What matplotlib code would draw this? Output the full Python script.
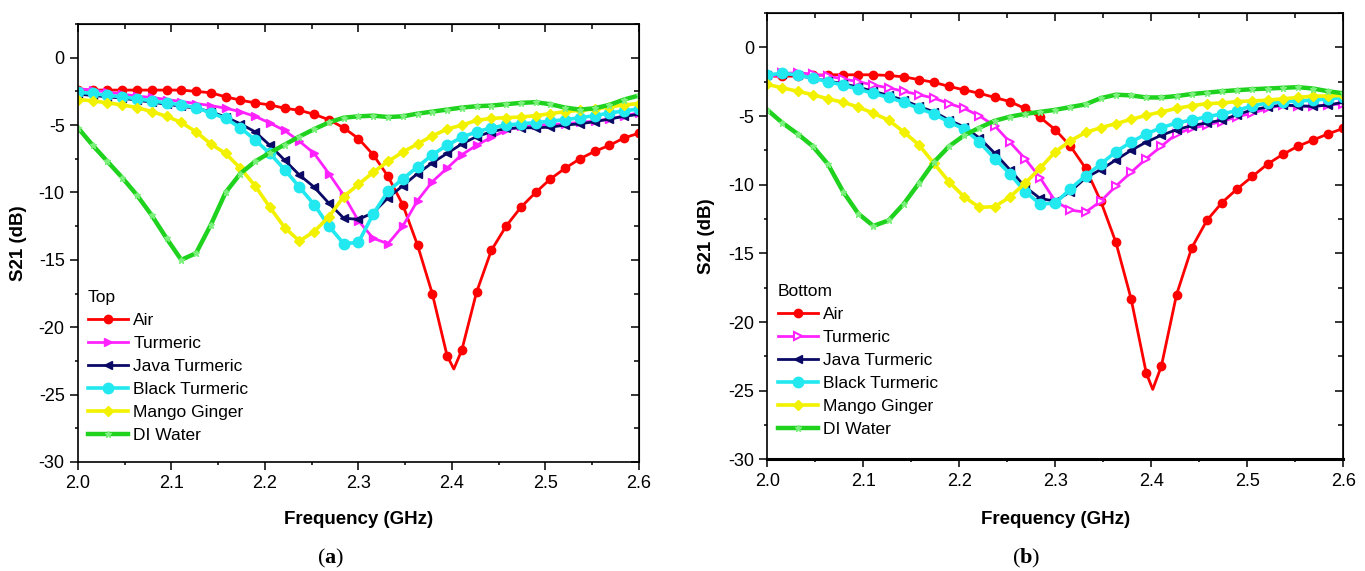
import matplotlib
matplotlib.use("Agg")
import matplotlib.pyplot as plt
import numpy as np
from matplotlib.ticker import MultipleLocator

plt.rcParams['font.family'] = ['Liberation Sans', 'DejaVu Sans']
plt.rcParams['mathtext.fontset'] = 'custom'
plt.rcParams['mathtext.bf'] = 'Liberation Serif:bold'

# frequency samples (GHz), one per marker
freq = np.linspace(2.0, 2.6, 39)

labels = ['Air', 'Turmeric', 'Java Turmeric', 'Black Turmeric', 'Mango Ginger', 'DI Water']

# ---- (a) Top ----
top_air = [-2.4, -2.4, -2.4, -2.4, -2.4, -2.4, -2.4, -2.4, -2.5, -2.6, -2.9, -3.15, -3.35,
           -3.5, -3.75, -3.9, -4.2, -4.6, -5.2, -6.0, -7.2, -8.8, -10.9, -13.9, -17.5, -22.1,
           -21.7, -17.4, -14.3, -12.5, -11.1, -10.0, -9.0, -8.2, -7.5, -6.95, -6.5, -5.95, -5.6]
top_air_min = (2.402, -23.1)
top_turmeric = [-2.3, -2.4, -2.55, -2.7, -2.85, -2.95, -3.1, -3.25, -3.4, -3.55, -3.75, -4.0,
                -4.35, -4.85, -5.4, -6.2, -7.1, -8.6, -10.2, -12.1, -13.4, -13.8, -12.5, -10.6,
                -9.2, -8.2, -7.2, -6.5, -5.9, -5.4, -5.1, -5.0, -4.95, -4.9, -4.8, -4.7, -4.55,
                -4.3, -4.1]
top_java = [-2.7, -2.8, -2.9, -3.0, -3.15, -3.3, -3.45, -3.6, -3.75, -4.0, -4.4, -4.9, -5.5,
            -6.5, -7.6, -8.7, -9.6, -10.8, -11.9, -12.0, -11.5, -10.4, -9.5, -8.6, -7.8, -7.1,
            -6.4, -5.85, -5.5, -5.25, -5.2, -5.2, -5.15, -5.0, -4.9, -4.75, -4.55, -4.35, -4.2]
top_black = [-2.55, -2.65, -2.8, -2.9, -3.05, -3.2, -3.35, -3.5, -3.7, -4.1, -4.5, -5.2, -6.1,
             -7.1, -8.3, -9.6, -10.9, -12.5, -13.8, -13.7, -11.6, -9.9, -9.0, -8.1, -7.2, -6.5,
             -5.9, -5.5, -5.2, -5.0, -4.9, -4.82, -4.7, -4.6, -4.45, -4.3, -4.1, -3.95, -3.8]
top_mango = [-3.1, -3.2, -3.35, -3.5, -3.7, -4.0, -4.35, -4.8, -5.5, -6.4, -7.1, -8.2, -9.5,
             -11.1, -12.6, -13.6, -12.9, -11.8, -10.3, -9.4, -8.5, -7.7, -7.0, -6.4, -5.8, -5.3,
             -5.0, -4.65, -4.5, -4.45, -4.4, -4.3, -4.15, -4.0, -3.9, -3.8, -3.65, -3.5, -3.4]
top_water = [-5.2, -6.5, -7.7, -8.9, -10.2, -11.7, -13.4, -15.0, -14.5, -12.4, -10.0, -8.6,
             -7.7, -7.05, -6.45, -5.85, -5.3, -4.8, -4.45, -4.35, -4.3, -4.4, -4.35, -4.15, -4.0,
             -3.85, -3.7, -3.6, -3.55, -3.45, -3.35, -3.3, -3.45, -3.7, -3.85, -3.75, -3.5, -3.1,
             -2.8]

# ---- (b) Bottom ----
bot_air = [-2.1, -2.1, -2.1, -2.05, -2.0, -2.0, -2.0, -2.0, -2.05, -2.15, -2.35, -2.55, -2.85,
           -3.1, -3.35, -3.65, -3.95, -4.45, -5.1, -6.0, -7.2, -8.8, -11.2, -14.2, -18.3, -23.7,
           -23.2, -18.0, -14.6, -12.6, -11.3, -10.3, -9.4, -8.5, -7.8, -7.2, -6.75, -6.3, -5.9]
bot_air_min = (2.4015, -24.9)
bot_turmeric = [-2.2, -1.9, -1.85, -1.95, -2.1, -2.3, -2.5, -2.75, -2.95, -3.2, -3.45, -3.7,
                -4.1, -4.45, -5.0, -5.7, -6.9, -8.1, -9.5, -11.2, -11.85, -12.0, -11.2, -10.1,
                -9.1, -8.1, -7.2, -6.3, -5.9, -5.65, -5.4, -5.05, -4.8, -4.45, -4.2, -4.3, -4.3,
                -4.2, -4.1]
bot_java = [-2.0, -1.95, -2.05, -2.25, -2.45, -2.65, -2.9, -3.2, -3.5, -3.85, -4.3, -4.7, -5.3,
            -5.8, -6.6, -7.7, -8.9, -10.15, -11.0, -11.2, -10.5, -9.5, -8.9, -8.2, -7.5, -6.9,
            -6.4, -6.0, -5.7, -5.5, -5.3, -4.9, -4.55, -4.35, -4.2, -4.25, -4.3, -4.2, -4.0]
bot_black = [-2.0, -1.9, -2.0, -2.25, -2.5, -2.75, -3.05, -3.35, -3.65, -4.0, -4.45, -4.85,
             -5.45, -5.95, -6.9, -8.1, -9.2, -10.5, -11.4, -11.35, -10.3, -9.35, -8.5, -7.6,
             -6.9, -6.3, -5.85, -5.5, -5.3, -5.05, -4.85, -4.6, -4.25, -4.05, -3.95, -3.9, -3.85,
             -3.75, -3.65]
bot_mango = [-2.7, -2.95, -3.2, -3.45, -3.75, -4.0, -4.35, -4.8, -5.3, -6.15, -7.1, -8.45,
             -9.8, -10.9, -11.65, -11.6, -10.9, -9.9, -8.8, -7.6, -6.8, -6.2, -5.85, -5.55,
             -5.25, -4.95, -4.7, -4.45, -4.25, -4.1, -4.05, -3.95, -3.9, -3.85, -3.75, -3.65,
             -3.55, -3.55, -3.5]
bot_water = [-4.55, -5.5, -6.3, -7.2, -8.5, -10.5, -12.1, -13.0, -12.6, -11.4, -9.9, -8.35,
             -7.2, -6.4, -5.85, -5.35, -5.05, -4.85, -4.7, -4.55, -4.35, -4.15, -3.7, -3.45,
             -3.5, -3.65, -3.65, -3.55, -3.4, -3.3, -3.2, -3.12, -3.05, -3.0, -2.95, -2.9, -3.0,
             -3.2, -3.35]

XTICKS = [2.0, 2.1, 2.2, 2.3, 2.4, 2.5, 2.6]
YTICKS = [0, -5, -10, -15, -20, -25, -30]


def with_min(xs, ys, extra):
    """Insert the unmarked dip minimum into a series."""
    pts = sorted(list(zip(xs, ys)) + [extra])
    x2 = [p[0] for p in pts]
    y2 = [p[1] for p in pts]
    skip = x2.index(extra[0])
    marks = [i for i in range(len(x2)) if i != skip]
    return x2, y2, marks


def draw_panel(ax, series, air_min, title, hollow_turmeric, lab_dx):
    styles = [
        dict(color='#ff0000', marker='o', ms=6, lw=2.0),
        dict(color='#ff22ff', marker='>', ms=6, lw=2.0),
        dict(color='#0a0a66', marker='<', ms=6, lw=2.0),
        dict(color='#22e8f0', marker='o', ms=7.5, lw=2.6),
        dict(color='#f2f200', marker='D', ms=5.5, lw=2.6),
        dict(color='#1ed21e', marker='*', ms=5, lw=3.2),
    ]
    for i, (lab, ys) in enumerate(zip(labels, series)):
        st = dict(styles[i])
        if i == 0:
            xs, yv, marks = with_min(list(freq), ys, air_min)
            ax.plot(xs, yv, markevery=marks, label=lab, **st)
        else:
            kw = {}
            if i == 1 and hollow_turmeric:
                kw = dict(mfc='white', mew=1.5)
            if i == 5:
                kw = dict(mfc='#7cf07c', mec='#7cf07c')
            ax.plot(freq, ys, label=lab, **st, **kw)

    ax.set_xlim(2.0, 2.6)
    ax.set_ylim(-30, 2.5)
    ax.set_xticks(XTICKS)
    ax.set_yticks(YTICKS)
    ax.set_xticklabels(['%.1f' % v for v in XTICKS])
    ax.set_yticklabels(['%d' % v for v in YTICKS])
    ax.xaxis.set_minor_locator(MultipleLocator(0.05))
    ax.yaxis.set_minor_locator(MultipleLocator(2.5))
    ax.tick_params(which='both', direction='out', top=False, right=False,
                   labelsize=13, width=1.1, pad=4)
    ax.tick_params(which='major', length=5.5)
    ax.tick_params(which='minor', length=2.5)
    for sp in ax.spines.values():
        sp.set_linewidth(1.2)

    # inward ticks on the top and right spines
    tw = ax.secondary_xaxis('top')
    tw.set_xticks(XTICKS)
    tw.xaxis.set_minor_locator(MultipleLocator(0.05))
    tw.tick_params(which='both', direction='in', labeltop=False, width=1.1)
    tw.tick_params(which='major', length=6)
    tw.tick_params(which='minor', length=3.5)
    rw = ax.secondary_yaxis('right')
    rw.set_yticks(YTICKS)
    rw.yaxis.set_minor_locator(MultipleLocator(2.5))
    rw.tick_params(which='both', direction='in', labelright=False, width=1.1)
    rw.tick_params(which='major', length=6)
    rw.tick_params(which='minor', length=3.5)

    ax.set_xlabel('Frequency (GHz)', fontsize=13.5, fontweight='bold')
    ax.set_ylabel('S21 (dB)', fontsize=13.5, fontweight='bold')
    ax.xaxis.set_label_coords(0.5, lab_dx)
    ax.yaxis.set_label_coords(-0.091, 0.5)

    leg = ax.legend(loc='upper left', bbox_to_anchor=(0.018, 0.393), title=title,
                    alignment='left', frameon=False, fontsize=12.5, title_fontsize=12.5,
                    numpoints=1, handlelength=2.3, handletextpad=0.3, labelspacing=0.45,
                    borderpad=0, borderaxespad=0)
    leg._legend_box.sep = 6


fig = plt.figure(figsize=(13.65, 5.71), dpi=100)
ax_a = fig.add_axes([0.0571, 0.1909, 0.411, 0.767])
ax_b = fig.add_axes([0.5621, 0.1953, 0.422, 0.782])

draw_panel(ax_a, [top_air, top_turmeric, top_java, top_black, top_mango, top_water],
           top_air_min, 'Top', False, -0.112)
draw_panel(ax_b, [bot_air, bot_turmeric, bot_java, bot_black, bot_mango, bot_water],
           bot_air_min, 'Bottom', True, -0.115)
ax_b.spines['bottom'].set_linewidth(2.2)

fig.text(0.2418, 0.022, r'($\mathbf{a}$)', ha='center', va='center', fontsize=16,
         family=['Liberation Serif', 'DejaVu Serif'])
fig.text(0.7515, 0.022, r'($\mathbf{b}$)', ha='center', va='center', fontsize=16,
         family=['Liberation Serif', 'DejaVu Serif'])

fig.savefig('out.png', dpi=100)
